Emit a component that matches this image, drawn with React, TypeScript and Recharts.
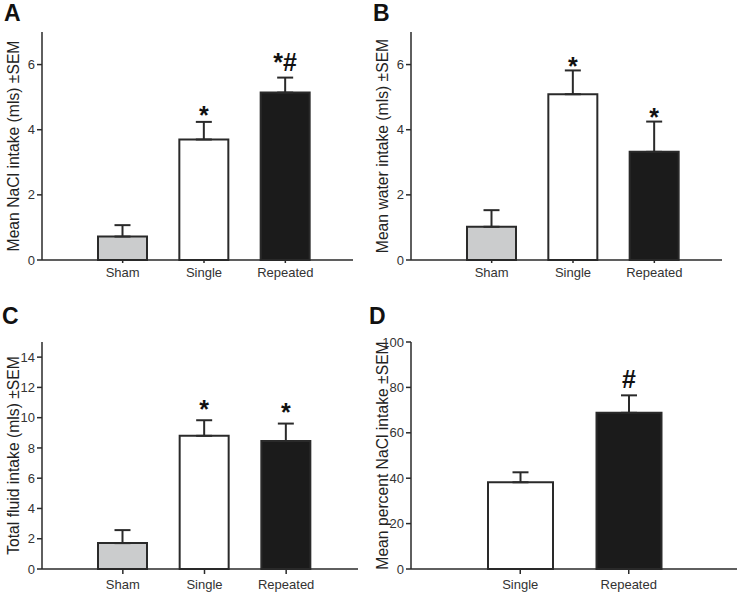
import { Bar, BarChart, Cell, ErrorBar, LabelList, XAxis, YAxis } from "recharts";

const GROUPS = ["Sham", "Single", "Repeated"];
const PERCENT_GROUPS = ["Single", "Repeated"];

const NACL_MEAN = [0.72, 3.7, 5.14];
const NACL_SEM = [0.35, 0.54, 0.46];
const NACL_SIG = ["", "*", "*#"];

const WATER_MEAN = [1.02, 5.09, 3.32];
const WATER_SEM = [0.51, 0.73, 0.93];
const WATER_SIG = ["", "*", "*"];

const TOTAL_MEAN = [1.71, 8.8, 8.45];
const TOTAL_SEM = [0.86, 1.03, 1.16];
const TOTAL_SIG = ["", "*", "*"];

const PERCENT_MEAN = [38.2, 68.8];
const PERCENT_SEM = [4.4, 7.7];
const PERCENT_SIG = ["", "#"];

const TICKS_7 = [0, 2, 4, 6];
const TICKS_15 = [0, 2, 4, 6, 8, 10, 12, 14];
const TICKS_100 = [0, 20, 40, 60, 80, 100];

const GROUP_FILL: Record<string, string> = {
  Sham: "#cbcccd",
  Single: "#ffffff",
  Repeated: "#1b1b1b",
};

const FONT = '"Liberation Sans", Arial, Helvetica, sans-serif';
const INK = "#2a2a2a";
const SIG_SIZE = 25;

function buildRows(groups: string[], means: number[], sems: number[], sigs: string[]) {
  return groups.map((group, i) => ({
    group,
    mean: means[i],
    // whisker hangs from the top of the invisible bar down to the mean
    err: [sems[i], 0],
    top: means[i] + sems[i],
    sig: sigs[i],
  }));
}

// gap = distance between the bottom of the glyphs and the whisker cap
function sigLabel(gap: number) {
  return (props: any) => {
    const { x, y, width, value } = props;
    if (!value) return null;
    const s = String(value);
    const drop = s.includes("#") ? 0 : SIG_SIZE * 0.36;
    return (
      <text
        x={Number(x) + Number(width) / 2}
        y={Number(y) - gap + drop}
        textAnchor="middle"
        fontFamily={FONT}
        fontWeight="bold"
        fontSize={SIG_SIZE}
        fill="#111"
      >
        {s}
      </text>
    );
  };
}

interface PanelProps {
  left: number;
  top: number;
  width: number;
  height: number;
  rows: ReturnType<typeof buildRows>;
  domain: [number, number];
  ticks: number[];
  yLabel: string;
  margin: { top: number; right: number };
  axisHeight: number;
  padding: { left: number; right: number };
  barSize: number;
  xTickSize: number;
  xTickMargin: number;
  gap: number;
}

function Panel(p: PanelProps) {
  return (
    <div style={{ position: "absolute", left: p.left, top: p.top }}>
      <BarChart
        width={p.width}
        height={p.height}
        data={p.rows}
        margin={{ top: p.margin.top, right: p.margin.right, bottom: 0, left: 0 }}
      >
        <XAxis
          dataKey="group"
          height={p.axisHeight}
          padding={p.padding}
          stroke={INK}
          strokeWidth={1.5}
          tickSize={p.xTickSize}
          tickMargin={p.xTickMargin}
          tick={{ fontSize: 13, fill: "#333", fontFamily: FONT }}
        />
        <XAxis xAxisId="sig" dataKey="group" hide padding={p.padding} />
        <YAxis
          type="number"
          domain={p.domain}
          ticks={p.ticks}
          width={42}
          stroke={INK}
          strokeWidth={1.5}
          tickSize={5}
          tickMargin={2}
          interval={0}
          tick={{ fontSize: 13, fill: "#333", fontFamily: FONT }}
          label={{
            content: (lp: any) => {
              const vb = lp.viewBox;
              const cx = vb.x + 19;
              const cy = vb.y + vb.height / 2;
              return (
                <text
                  x={cx}
                  y={cy}
                  transform={`rotate(-90, ${cx}, ${cy})`}
                  textAnchor="middle"
                  fontSize={15.7}
                  fontFamily={FONT}
                  fill="#222"
                >
                  {p.yLabel}
                </text>
              );
            },
          }}
        />
        <Bar
          xAxisId="sig"
          dataKey="top"
          fill="none"
          stroke="none"
          barSize={p.barSize}
          isAnimationActive={false}
        >
          <ErrorBar dataKey="err" width={8} stroke={INK} strokeWidth={2} direction="y" />
          <LabelList dataKey="sig" content={sigLabel(p.gap)} />
        </Bar>
        <Bar
          dataKey="mean"
          barSize={p.barSize}
          stroke={INK}
          strokeWidth={2}
          isAnimationActive={false}
        >
          {p.rows.map((r) => (
            <Cell key={r.group} fill={GROUP_FILL[r.group]} />
          ))}
        </Bar>
      </BarChart>
    </div>
  );
}

export default function App() {
  return (
    <div
      style={{
        position: "absolute",
        left: 0,
        top: 0,
        width: 738,
        height: 594,
        background: "#fff",
        fontFamily: FONT,
      }}
    >
      <Panel
        left={0}
        top={0}
        width={369}
        height={290}
        rows={buildRows(GROUPS, NACL_MEAN, NACL_SEM, NACL_SIG)}
        domain={[0, 7]}
        ticks={TICKS_7}
        yLabel="Mean NaCl intake (mls) ±SEM"
        margin={{ top: 32, right: 16 }}
        axisHeight={30}
        padding={{ left: 40, right: 27 }}
        barSize={49}
        xTickSize={3}
        xTickMargin={5}
        gap={7}
      />
      <Panel
        left={369}
        top={0}
        width={369}
        height={290}
        rows={buildRows(GROUPS, WATER_MEAN, WATER_SEM, WATER_SIG)}
        domain={[0, 7]}
        ticks={TICKS_7}
        yLabel="Mean water intake (mls) ±SEM"
        margin={{ top: 32, right: 16 }}
        axisHeight={30}
        padding={{ left: 40, right: 27 }}
        barSize={49}
        xTickSize={3}
        xTickMargin={5}
        gap={4.5}
      />
      <Panel
        left={0}
        top={290}
        width={369}
        height={304}
        rows={buildRows(GROUPS, TOTAL_MEAN, TOTAL_SEM, TOTAL_SIG)}
        domain={[0, 15]}
        ticks={TICKS_15}
        yLabel="Total fluid intake (mls) ±SEM"
        margin={{ top: 52, right: 11 }}
        axisHeight={25}
        padding={{ left: 40, right: 31 }}
        barSize={49}
        xTickSize={5}
        xTickMargin={6}
        gap={11.5}
      />
      <Panel
        left={369}
        top={290}
        width={369}
        height={304}
        rows={buildRows(PERCENT_GROUPS, PERCENT_MEAN, PERCENT_SEM, PERCENT_SIG)}
        domain={[0, 100]}
        ticks={TICKS_100}
        yLabel="Mean percent NaCl intake ±SEM"
        margin={{ top: 52, right: 1 }}
        axisHeight={25}
        padding={{ left: 55, right: 54 }}
        barSize={65}
        xTickSize={5}
        xTickMargin={6}
        gap={7}
      />
      <svg
        width={738}
        height={594}
        style={{ position: "absolute", left: 0, top: 0, pointerEvents: "none" }}
      >
        <g fontFamily={FONT} fontWeight="bold" fontSize={23} fill="#111">
          <text x={4} y={21}>A</text>
          <text x={373} y={21}>B</text>
          <text x={2} y={324}>C</text>
          <text x={369} y={324}>D</text>
        </g>
      </svg>
    </div>
  );
}
